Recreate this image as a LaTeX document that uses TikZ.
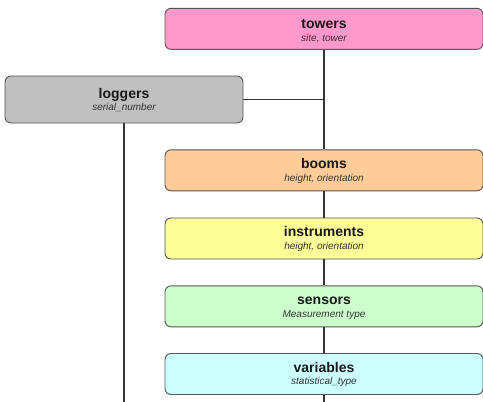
\documentclass[tikz,border=0pt]{standalone}
\usepackage{fontspec}
\setmainfont{Liberation Sans}
\definecolor{towersfill}{HTML}{FF99CC}
\definecolor{loggersfill}{HTML}{C0C0C0}
\definecolor{boomsfill}{HTML}{FFCC99}
\definecolor{instrfill}{HTML}{FFFF99}
\definecolor{sensorsfill}{HTML}{CCFFCC}
\definecolor{varsfill}{HTML}{CCFFFF}
\definecolor{edgegrey}{HTML}{555555}
\definecolor{linegrey}{HTML}{333333}
\tikzset{
  entity/.style={draw=edgegrey, line width=0.9pt, rounded corners=6pt, rectangle, inner sep=0pt},
  mainbox/.style={entity, minimum width=318pt, minimum height=41pt},
  titletext/.style={anchor=base, inner sep=0pt, font=\fontsize{14}{14}\selectfont\bfseries, text=black!90},
  subtext/.style={anchor=base, inner sep=0pt, font=\fontsize{10}{10}\selectfont\itshape, text=black!80},
  conn/.style={draw=linegrey, line width=1.4pt}
}
\begin{document}
\begin{tikzpicture}[x=1pt,y=-1pt]
\useasboundingbox (0,0) rectangle (483,402);
% connectors (behind boxes)
\coordinate (mainbottom) at (324,402);
\coordinate (logbottom) at (124,402);
\coordinate (joint) at (324,99.5);
% boxes
\node[mainbox, fill=towersfill] (towers) at (324,28.8) {};
\node[entity, fill=loggersfill, minimum width=238pt, minimum height=47pt] (loggers) at (124,99.5) {};
\node[mainbox, fill=boomsfill] (booms) at (324,170.3) {};
\node[mainbox, fill=instrfill] (instruments) at (324,238.5) {};
\node[mainbox, fill=sensorsfill] (sensors) at (324,306.3) {};
\node[mainbox, fill=varsfill] (variables) at (324,374) {};
% lines
\draw[conn] (towers.south) -- (joint) -- (booms.north);
\draw[conn] (loggers.east) -- (joint);
\draw[conn] (booms.south) -- (instruments.north);
\draw[conn] (instruments.south) -- (sensors.north);
\draw[conn] (sensors.south) -- (variables.north);
\draw[conn] (variables.south) -- (mainbottom);
\draw[conn] (loggers.south) -- (logbottom);
% texts
\node[titletext] (towersT) at (324,28.3) {towers};
\node[subtext] (towersS) at (324,41) {site, tower};
\node[titletext] (loggersT) at (124,98) {loggers};
\node[subtext] (loggersS) at (124,110.5) {serial\_number};
\node[titletext] (boomsT) at (324,168.5) {booms};
\node[subtext] (boomsS) at (324,181) {height, orientation};
\node[titletext] (instrT) at (324,236.7) {instruments};
\node[subtext] (instrS) at (324,249.2) {height, orientation};
\node[titletext] (sensorsT) at (324,304.5) {sensors};
\node[subtext] (sensorsS) at (324,317) {Measurement type};
\node[titletext] (varsT) at (324,372.2) {variables};
\node[subtext] (varsS) at (324,384.7) {statistical\_type};
\end{tikzpicture}
\end{document}
